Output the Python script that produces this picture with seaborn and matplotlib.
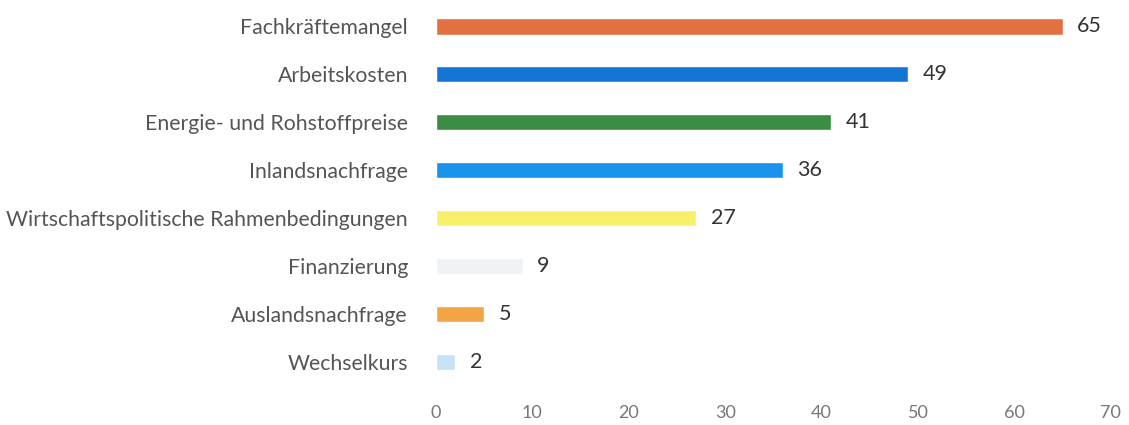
import matplotlib
matplotlib.use("Agg")
import matplotlib.pyplot as plt
import seaborn as sns
import pandas as pd

categories = ["Fachkräftemangel", "Arbeitskosten", "Energie- und Rohstoffpreise",
              "Inlandsnachfrage", "Wirtschaftspolitische Rahmenbedingungen",
              "Finanzierung", "Auslandsnachfrage", "Wechselkurs"]
values = [65, 49, 41, 36, 27, 9, 5, 2]
colors = ["#E3703F", "#1475D6", "#3B8C45", "#1A93EC", "#F7F06A",
          "#EFF3F6", "#F2A544", "#C6E3F5"]
xticks = [0, 10, 20, 30, 40, 50, 60, 70]

sns.set_theme(style="white")
plt.rcParams['font.family'] = ['Lato', 'DejaVu Sans']

df = pd.DataFrame({"kategorie": categories, "wert": values})

fig = plt.figure(figsize=(11.29, 4.25), dpi=100)
ax = fig.add_axes([0.386, 0.092, 0.598, 0.903])
sns.barplot(data=df, x="wert", y="kategorie", hue="kategorie", palette=colors,
            legend=False, width=0.35, ax=ax, saturation=1)

for i, v in enumerate(values):
    ax.text(v + 1.5, i, str(v), va="center", ha="left", fontsize=15.5, color="#333333")

ax.set_xlim(0, 70)
ax.set_ylim(7.5, -0.5)
ax.set_xticks(xticks)
ax.tick_params(axis="x", labelsize=13, labelcolor="#777777", length=0, pad=14)
ax.tick_params(axis="y", labelsize=15.3, labelcolor="#555555", length=0, pad=20)
ax.set_xlabel("")
ax.set_ylabel("")
sns.despine(ax=ax, left=True, bottom=True)

fig.savefig("out.png", dpi=100)
